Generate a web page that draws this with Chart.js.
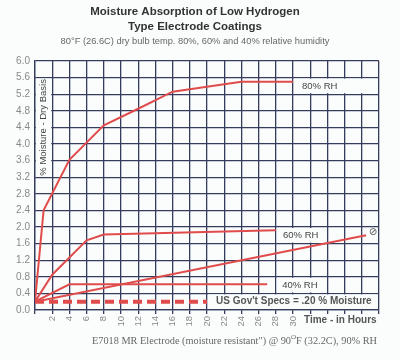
<!DOCTYPE html>
<html><head><meta charset="utf-8">
<script src="https://cdn.jsdelivr.net/npm/chart.js@4"></script>
<style>html,body{margin:0;padding:0;background:#fbfdfd;}canvas{display:block;}</style>
</head><body>
<canvas id="c" width="400" height="360"></canvas>
<script>
// Data (hours, % moisture)
const rh80Hours = [0, 1, 4, 8, 12, 16, 24, 30];
const rh80Values = [0.2, 2.4, 3.62, 4.45, 4.85, 5.26, 5.5, 5.5];
const rh60Hours = [0, 2, 6, 8, 28];
const rh60Values = [0.2, 0.85, 1.68, 1.82, 1.92];
const rh40Hours = [0, 4, 27];
const rh40Values = [0.2, 0.62, 0.62];
const mrHours = [0, 38.5];
const mrValues = [0.2, 1.8];
const specHours = [0, 20];
const specValues = [0.2, 0.2];
const xTickLabels = [2,4,6,8,10,12,14,16,18,20,22,24,26,28,30];
const titleLines = ["Moisture Absorption of Low Hydrogen", "Type Electrode Coatings"];
const subtitle = "80°F (26.6C) dry bulb temp. 80%, 60% and 40% relative humidity";

const pts = (h, v) => h.map((x, i) => ({x, y: v[i]}));
const RED = '#e04c4c';
const GRID = '#353c5e';

const decor = {
  id: 'decor',
  beforeDatasetsDraw(chart) {
    const {ctx, scales:{x, y}} = chart;
    const box = (h1, h2, v1, v2) => {
      const l = x.getPixelForValue(h1) + 1, r = x.getPixelForValue(h2) - 1;
      const t = y.getPixelForValue(v2) + 1, b = y.getPixelForValue(v1) - 1;
      ctx.fillStyle = '#fbfdfd';
      ctx.fillRect(l, t, r - l, b - t);
    };
    box(0, 2, 3.2, 5.6);
    box(30, 40, 5.2, 5.6);
    box(28, 34, 1.6, 2.0);
    box(28, 34, 0.4, 0.8);
    box(20, 40, 0, 0.4);
    ctx.save();
    ctx.fillStyle = '#444';
    ctx.font = '9.5px "Liberation Sans", Arial, sans-serif';
    ctx.textBaseline = 'middle';
    ctx.textAlign = 'center';
    ctx.fillText('80% RH', x.getPixelForValue(33.1), y.getPixelForValue(5.4));
    ctx.fillText('60% RH', x.getPixelForValue(30.9), y.getPixelForValue(1.8));
    ctx.fillText('40% RH', x.getPixelForValue(30.8), y.getPixelForValue(0.6));
    ctx.font = 'bold 10px "Liberation Sans", Arial, sans-serif';
    ctx.fillStyle = '#555';
    ctx.fillText("US Gov't Specs = .20 % Moisture", x.getPixelForValue(30.1), y.getPixelForValue(0.2));
    ctx.font = '10px "DejaVu Sans", sans-serif';
    ctx.fillStyle = '#555';
    ctx.fillText('⊘', x.getPixelForValue(39.3), y.getPixelForValue(1.87));
    // y-axis title inside the first column
    ctx.translate(x.getPixelForValue(1), y.getPixelForValue(4.4));
    ctx.rotate(-Math.PI / 2);
    ctx.font = '9.5px "Liberation Sans", Arial, sans-serif';
    ctx.fillStyle = '#444';
    ctx.fillText('% Moisture - Dry Basis', 0, 0);
    ctx.restore();
  },
  afterDraw(chart) {
    const {ctx} = chart;
    ctx.save();
    ctx.textAlign = 'center';
    ctx.textBaseline = 'middle';
    ctx.fillStyle = '#333';
    ctx.font = 'bold 11.5px "Liberation Sans", Arial, sans-serif';
    ctx.fillText(titleLines[0], 195, 12);
    ctx.fillText(titleLines[1], 195, 27);
    ctx.font = '9.3px "Liberation Sans", Arial, sans-serif';
    ctx.fillStyle = '#666';
    ctx.fillText(subtitle, 195, 41);
    ctx.font = 'bold 10px "Liberation Sans", Arial, sans-serif';
    ctx.fillStyle = '#555';
    ctx.textAlign = 'left';
    ctx.fillText('Time - in Hours', 304, 320);
    // caption with superscript
    ctx.font = '10.3px "Liberation Serif", serif';
    ctx.fillStyle = '#666';
    let cx = 92, cy = 341;
    const p1 = 'E7018 MR Electrode (moisture resistant") @ 90';
    ctx.fillText(p1, cx, cy); cx += ctx.measureText(p1).width;
    ctx.font = '7px "Liberation Serif", serif';
    ctx.fillText('O', cx, cy - 4); cx += ctx.measureText('O').width;
    ctx.font = '10.3px "Liberation Serif", serif';
    ctx.fillText('F (32.2C), 90% RH', cx, cy);
    ctx.restore();
  }
};

const lineDs = (label, data, extra) => Object.assign({
  label, data, borderColor: RED, borderWidth: 2, pointRadius: 0, fill: false, tension: 0
}, extra || {});

new Chart(document.getElementById('c'), {
  type: 'line',
  data: {
    datasets: [
      lineDs('80% RH', pts(rh80Hours, rh80Values)),
      lineDs('60% RH', pts(rh60Hours, rh60Values)),
      lineDs('40% RH', pts(rh40Hours, rh40Values)),
      lineDs('E7018 MR 90% RH', pts(mrHours, mrValues)),
      lineDs('US Gov\'t Specs', pts(specHours, specValues), {borderWidth: 4, borderDash: [9, 5]})
    ]
  },
  options: {
    responsive: false,
    animation: false,
    layout: {padding: {top: 61, right: 21, left: 0, bottom: 0}},
    plugins: {legend: {display: false}, tooltip: {enabled: false}, title: {display: false}},
    scales: {
      x: {
        type: 'linear', min: 0, max: 40,
        afterFit(s) { s.height = 50; },
        grid: {color: GRID, lineWidth: 1.3, tickLength: 4, tickColor: GRID},
        border: {color: GRID, width: 1.3},
        ticks: {
          stepSize: 2, autoSkip: false, maxRotation: 90, minRotation: 90, padding: 2,
          color: '#888', font: {size: 9.5, family: '"Liberation Sans", Arial, sans-serif'},
          callback: v => xTickLabels.includes(v) ? String(v) : ''
        }
      },
      y: {
        min: 0, max: 6,
        afterFit(s) { s.width = 35; },
        grid: {color: GRID, lineWidth: 1.3, drawTicks: false},
        border: {color: GRID, width: 1.3},
        ticks: {
          stepSize: 0.4, padding: 5, color: '#888',
          font: {size: 10, family: '"Liberation Sans", Arial, sans-serif'},
          callback: v => Number(v).toFixed(1)
        }
      }
    }
  },
  plugins: [decor]
});
</script>
</body></html>
